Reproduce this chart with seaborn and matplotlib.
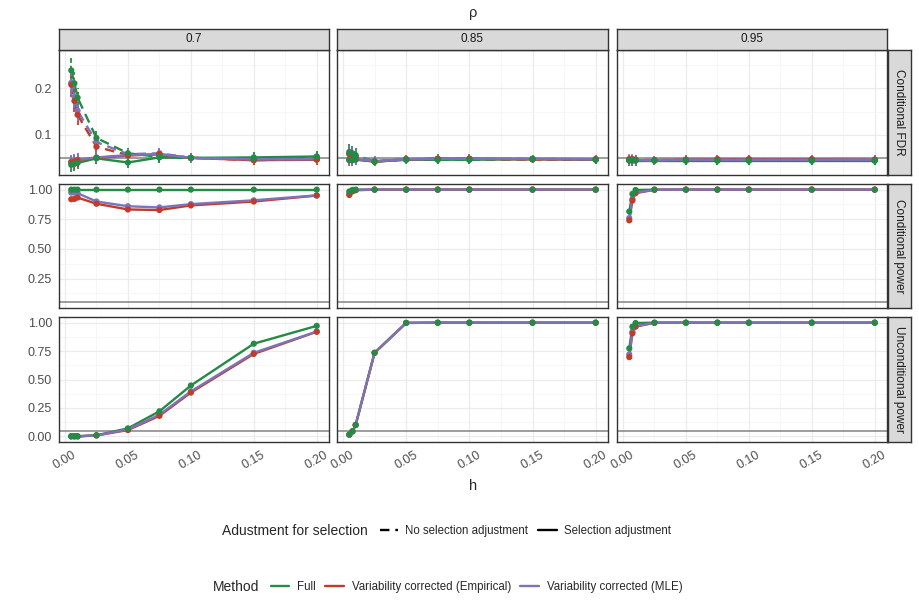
import numpy as np
import pandas as pd
import matplotlib
matplotlib.use('Agg')
import matplotlib.pyplot as plt
from matplotlib.lines import Line2D
import seaborn as sns

# 값들
h = [0.005, 0.0075, 0.01, 0.025, 0.05, 0.075, 0.1, 0.15, 0.2]
rhos = ['0.7', '0.85', '0.95']
metrics = ['Conditional FDR', 'Conditional power', 'Unconditional power']
methods = ['Full', 'Variability corrected (Empirical)', 'Variability corrected (MLE)']
adjusts = ['No selection adjustment', 'Selection adjustment']

# Conditional FDR, selection adjustment  [Full, Empirical, MLE]
fdr_adj_70 = [[0.035, 0.037, 0.039, 0.049, 0.040, 0.051, 0.050, 0.051, 0.053],
              [0.040, 0.042, 0.045, 0.050, 0.055, 0.058, 0.050, 0.045, 0.046],
              [0.042, 0.044, 0.046, 0.051, 0.056, 0.058, 0.050, 0.047, 0.047]]
fdr_adj_85 = [[0.046, 0.045, 0.046, 0.042, 0.046, 0.046, 0.046, 0.047, 0.046],
              [0.045, 0.046, 0.047, 0.042, 0.047, 0.048, 0.048, 0.047, 0.047],
              [0.046, 0.046, 0.047, 0.043, 0.047, 0.048, 0.048, 0.048, 0.047]]
fdr_adj_95 = [[0.044, 0.044, 0.044, 0.044, 0.044, 0.044, 0.044, 0.044, 0.044],
              [0.045, 0.045, 0.045, 0.045, 0.046, 0.047, 0.047, 0.047, 0.046],
              [0.045, 0.045, 0.045, 0.045, 0.046, 0.046, 0.046, 0.046, 0.046]]
# Conditional FDR, no selection adjustment
fdr_raw_70 = [[0.239, 0.211, 0.180, 0.093, 0.060, 0.052, 0.050, 0.048, 0.052],
              [0.208, 0.173, 0.143, 0.074, 0.056, 0.058, 0.050, 0.045, 0.047],
              [0.212, 0.182, 0.152, 0.084, 0.058, 0.060, 0.050, 0.047, 0.048]]
fdr_raw_85 = [[0.063, 0.060, 0.056, 0.042, 0.046, 0.046, 0.046, 0.047, 0.046],
              [0.058, 0.056, 0.052, 0.042, 0.047, 0.048, 0.048, 0.047, 0.047],
              [0.059, 0.057, 0.053, 0.043, 0.047, 0.048, 0.048, 0.048, 0.047]]
fdr_raw_95 = [[0.046, 0.046, 0.045, 0.044, 0.044, 0.044, 0.044, 0.044, 0.044],
              [0.047, 0.047, 0.046, 0.045, 0.046, 0.047, 0.047, 0.047, 0.046],
              [0.047, 0.047, 0.046, 0.045, 0.046, 0.046, 0.046, 0.046, 0.046]]
# error bar half widths
fdr_err_70 = [0.015, 0.015, 0.014, 0.013, 0.012, 0.012, 0.011, 0.011, 0.011]
fdr_raw_err_70 = [0.026, 0.024, 0.022, 0.016, 0.012, 0.012, 0.011, 0.011, 0.011]
fdr_err_85 = [0.013, 0.013, 0.012, 0.010, 0.010, 0.010, 0.010, 0.009, 0.009]
fdr_raw_err_85 = [0.016, 0.016, 0.015, 0.010, 0.010, 0.010, 0.010, 0.009, 0.009]
fdr_err_95 = [0.011, 0.011, 0.011, 0.010, 0.010, 0.010, 0.010, 0.010, 0.010]

# Conditional power
cpow_70 = [[1.0, 1.0, 1.0, 1.0, 1.0, 1.0, 1.0, 1.0, 1.0],
           [0.919, 0.922, 0.933, 0.881, 0.833, 0.828, 0.867, 0.900, 0.950],
           [0.975, 0.975, 0.970, 0.900, 0.860, 0.850, 0.878, 0.910, 0.952]]
cpow_85 = [[0.985, 0.998, 1.0, 1.0, 1.0, 1.0, 1.0, 1.0, 1.0],
           [0.955, 0.985, 0.995, 1.0, 1.0, 1.0, 1.0, 1.0, 1.0],
           [0.965, 0.990, 0.997, 1.0, 1.0, 1.0, 1.0, 1.0, 1.0]]
cpow_95 = [[0.816, 0.964, 0.997, 1.0, 1.0, 1.0, 1.0, 1.0, 1.0],
           [0.741, 0.908, 0.970, 0.999, 1.0, 1.0, 1.0, 1.0, 1.0],
           [0.760, 0.920, 0.975, 0.999, 1.0, 1.0, 1.0, 1.0, 1.0]]
# Unconditional power
upow_70 = [[0.0, 0.0, 0.0, 0.009, 0.070, 0.220, 0.447, 0.815, 0.972],
           [0.0, 0.0, 0.0, 0.008, 0.055, 0.180, 0.385, 0.725, 0.920],
           [0.0, 0.0, 0.0, 0.008, 0.060, 0.190, 0.395, 0.735, 0.922]]
upow_85 = [[0.015, 0.044, 0.100, 0.735, 0.998, 1.0, 1.0, 1.0, 1.0],
           [0.015, 0.044, 0.100, 0.735, 0.998, 1.0, 1.0, 1.0, 1.0],
           [0.015, 0.044, 0.100, 0.735, 0.998, 1.0, 1.0, 1.0, 1.0]]
upow_95 = [[0.774, 0.965, 0.997, 1.0, 1.0, 1.0, 1.0, 1.0, 1.0],
           [0.697, 0.906, 0.965, 0.999, 1.0, 1.0, 1.0, 1.0, 1.0],
           [0.720, 0.920, 0.970, 0.999, 1.0, 1.0, 1.0, 1.0, 1.0]]
pow_err_70 = [0.004, 0.004, 0.004, 0.004, 0.008, 0.014, 0.018, 0.014, 0.008]
pow_err = [0.006, 0.005, 0.004, 0.003, 0.002, 0.002, 0.002, 0.002, 0.002]

palette = {'Full': '#238B45', 'Variability corrected (Empirical)': '#C23B2A',
           'Variability corrected (MLE)': '#7C74B8'}

##### long 형식 데이터프레임
rows = []
def add(rho, metric, adjust, vals, err):
    for m, v in zip(methods, vals):
        for hh, y, e in zip(h, v, err):
            rows.append(dict(rho=rho, metric=metric, adjust=adjust, method=m, h=hh, value=y, lo=y - e, hi=y + e))

add('0.7', metrics[0], adjusts[1], fdr_adj_70, fdr_err_70)
add('0.7', metrics[0], adjusts[0], fdr_raw_70, fdr_raw_err_70)
add('0.85', metrics[0], adjusts[1], fdr_adj_85, fdr_err_85)
add('0.85', metrics[0], adjusts[0], fdr_raw_85, fdr_raw_err_85)
add('0.95', metrics[0], adjusts[1], fdr_adj_95, fdr_err_95)
add('0.95', metrics[0], adjusts[0], fdr_raw_95, fdr_err_95)
add('0.7', metrics[1], adjusts[1], cpow_70, pow_err_70)
add('0.85', metrics[1], adjusts[1], cpow_85, pow_err)
add('0.95', metrics[1], adjusts[1], cpow_95, pow_err)
add('0.7', metrics[2], adjusts[1], upow_70, pow_err_70)
add('0.85', metrics[2], adjusts[1], upow_85, pow_err)
add('0.95', metrics[2], adjusts[1], upow_95, pow_err)
df = pd.DataFrame(rows)

sns.set_theme(style='white')
plt.rcParams['font.family'] = ['Liberation Sans', 'DejaVu Sans']

W, H = 920, 614
fig = plt.figure(figsize=(W / 100, H / 100), dpi=100)

def box(x0, y0, x1, y1):
    return [x0 / W, 1 - y1 / H, (x1 - x0) / W, (y1 - y0) / H]

cols = [(59, 329), (337, 608), (617, 887)]
rws = [(50, 175), (184, 308), (317, 442)]
ylims = [(0.013, 0.283), (0.0025, 1.0475), (-0.05, 1.05)]
yticks = [[0.1, 0.2], [0.25, 0.5, 0.75, 1.0], [0.0, 0.25, 0.5, 0.75, 1.0]]
yminor = [[0.05, 0.15, 0.25], [0.125, 0.375, 0.625, 0.875], [0.125, 0.375, 0.625, 0.875]]
xticks = [0.0, 0.05, 0.1, 0.15, 0.2]
xminor = [0.025, 0.075, 0.125, 0.175]
dash = (4, 2.5)

for i, metric in enumerate(metrics):
    for j, rho in enumerate(rhos):
        ax = fig.add_axes(box(cols[j][0], rws[i][0], cols[j][1], rws[i][1]))
        ax.set_facecolor('white')
        ax.set_xlim(-0.00475, 0.20975)
        ax.set_ylim(*ylims[i])
        for g in xticks:
            ax.axvline(g, color='#EBEBEB', lw=0.9, zorder=0)
        for g in xminor:
            ax.axvline(g, color='#F3F3F3', lw=0.5, zorder=0)
        for g in yticks[i]:
            ax.axhline(g, color='#EBEBEB', lw=0.9, zorder=0)
        for g in yminor[i]:
            ax.axhline(g, color='#F3F3F3', lw=0.5, zorder=0)
        ax.axhline(0.05, color='#8C8C8C', lw=1.2, zorder=1)

        sub = df[(df.rho == rho) & (df.metric == metric)]
        sns.lineplot(data=sub, x='h', y='value', hue='method', hue_order=methods, palette=palette,
                     style='adjust', style_order=adjusts, dashes={adjusts[0]: dash, adjusts[1]: ''},
                     estimator=None, errorbar=None, lw=1.7, legend=False, ax=ax, zorder=2)
        for (m, a), g in sub.groupby(['method', 'adjust']):
            ax.vlines(g.h, g.lo, g.hi, colors=palette[m], lw=1.3, zorder=3,
                      linestyles='--' if a == adjusts[0] else '-')
        pts = sub.assign(o=sub.method.map({methods[2]: 0, methods[1]: 1, methods[0]: 2})).sort_values('o')
        sns.scatterplot(data=pts, x='h', y='value', hue='method', palette=palette, s=20,
                        linewidth=0, legend=False, ax=ax, zorder=4)

        ax.set_xlabel('')
        ax.set_ylabel('')
        ax.set_xticks(xticks)
        ax.set_yticks(yticks[i])
        for s in ax.spines.values():
            s.set_color('#333333')
            s.set_linewidth(1.0)
        ax.tick_params(length=3, width=0.8, color='#333333', labelsize=9, labelcolor='#4D4D4D', pad=2)
        if j == 0:
            ax.set_yticklabels(['%g' % t if i == 0 else '%.2f' % t for t in yticks[i]])
        else:
            ax.tick_params(axis='y', left=False, labelleft=False)
        if i == 2:
            ax.set_xticklabels(['%.2f' % t for t in xticks], rotation=30, ha='center')
        else:
            ax.tick_params(axis='x', bottom=False, labelbottom=False)

# 패싯 스트립
for j, rho in enumerate(rhos):
    sa = fig.add_axes(box(cols[j][0], 29, cols[j][1], 50))
    sa.set_facecolor('#D9D9D9')
    sa.set_xticks([]); sa.set_yticks([])
    for s in sa.spines.values():
        s.set_color('#333333'); s.set_linewidth(1.0)
    sa.text(0.5, 0.5, rho, ha='center', va='center', fontsize=8.5, color='#1A1A1A', transform=sa.transAxes)
for i, metric in enumerate(metrics):
    sa = fig.add_axes(box(888, rws[i][0], 911, rws[i][1]))
    sa.set_facecolor('#D9D9D9')
    sa.set_xticks([]); sa.set_yticks([])
    for s in sa.spines.values():
        s.set_color('#333333'); s.set_linewidth(1.0)
    sa.text(0.5, 0.5, metric, ha='center', va='center', rotation=-90, fontsize=8.5, color='#1A1A1A',
            transform=sa.transAxes)

fig.text(473 / W, 1 - 13 / H, 'ρ', ha='center', va='center', fontsize=10.5)
fig.text(473 / W, 1 - 486 / H, 'h', ha='center', va='center', fontsize=10.5)

# 범례
fig.text(222 / W, 1 - 531 / H, 'Adustment for selection', ha='left', va='center', fontsize=10)
h1 = [Line2D([], [], color='black', lw=1.7, linestyle=(0, dash)),
      Line2D([], [], color='black', lw=1.7)]
fig.legend(h1, adjusts, loc='center left', bbox_to_anchor=(375 / W, 1 - 531 / H), ncol=2, frameon=False,
           fontsize=8.3, handlelength=1.6, handletextpad=0.6, columnspacing=0.9, borderaxespad=0)
fig.text(213 / W, 1 - 587 / H, 'Method', ha='left', va='center', fontsize=10)
h2 = [Line2D([], [], color=palette[m], lw=1.7) for m in methods]
fig.legend(h2, methods, loc='center left', bbox_to_anchor=(266 / W, 1 - 587 / H), ncol=3, frameon=False,
           fontsize=8.3, handlelength=1.6, handletextpad=0.7, columnspacing=0.8, borderaxespad=0)

plt.savefig('out.png', dpi=100)
